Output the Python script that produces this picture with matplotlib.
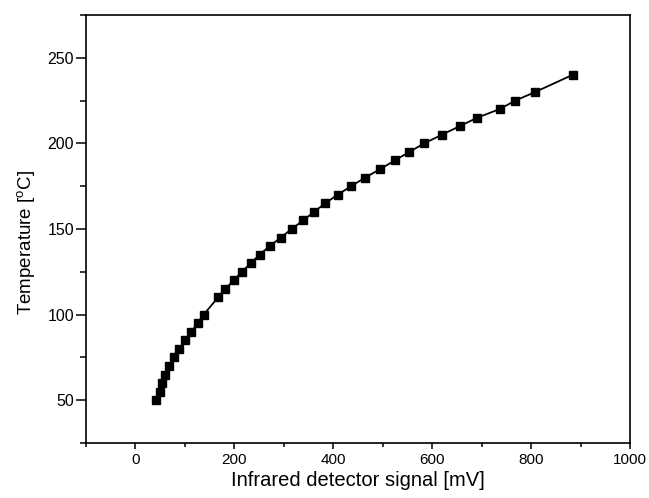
import matplotlib
matplotlib.use("Agg")
import matplotlib.pyplot as plt
from matplotlib.ticker import MultipleLocator

plt.rcParams['font.family'] = ['Liberation Sans', 'DejaVu Sans']
plt.rcParams['mathtext.fontset'] = 'custom'
plt.rcParams['mathtext.rm'] = 'Liberation Sans'

signal_mV = [41, 49.4, 54.4, 60.3, 68.7, 77.9, 88.8, 100.5, 113, 125.6, 138,
             166.7, 181.7, 198.5, 215, 232.8, 251, 271, 294, 315.7, 339, 361,
             383.6, 408.7, 436, 464, 495, 524, 553.6, 583.7, 619, 655, 691,
             736, 768, 808, 883.6]
temperature_C = [50, 55, 60, 65, 70, 75, 80, 85, 90, 95, 100,
                 110, 115, 120, 125, 130, 135, 140, 145, 150, 155, 160,
                 165, 170, 175, 180, 185, 190, 195, 200, 205, 210, 215,
                 220, 225, 230, 240]

fig = plt.figure(figsize=(6.49, 4.98), dpi=100)
ax = fig.add_axes([0.1325, 0.1104, 0.8385, 0.8596])
ax.plot(signal_mV, temperature_C, color='black', linewidth=1.3)
ax.plot(signal_mV, temperature_C, linestyle='none', marker='s',
        markersize=5.6, color='black')

ax.set_xlim(-100, 1000)
ax.set_ylim(25, 275)
ax.xaxis.set_major_locator(MultipleLocator(200))
ax.xaxis.set_minor_locator(MultipleLocator(100))
ax.yaxis.set_major_locator(MultipleLocator(50))
ax.yaxis.set_minor_locator(MultipleLocator(25))
ax.tick_params(axis='x', which='major', direction='out', length=4.3, width=1.1,
               labelsize=11, pad=3)
ax.tick_params(axis='x', which='minor', direction='out', length=2.6, width=1.1)
ax.tick_params(axis='y', which='major', direction='out', length=7.5, width=1.1,
               labelsize=11.5, pad=1)
ax.tick_params(axis='y', which='minor', direction='out', length=4.2, width=1.1)
for s in ax.spines.values():
    s.set_linewidth(1.2)

ax.set_xlabel('Infrared detector signal [mV]', fontsize=14.5, labelpad=3)
ax.set_ylabel('Temperature [$^{\\mathrm{o}}$C]', fontsize=13.5, labelpad=7, y=0.468)

fig.savefig('out.png', dpi=100)
